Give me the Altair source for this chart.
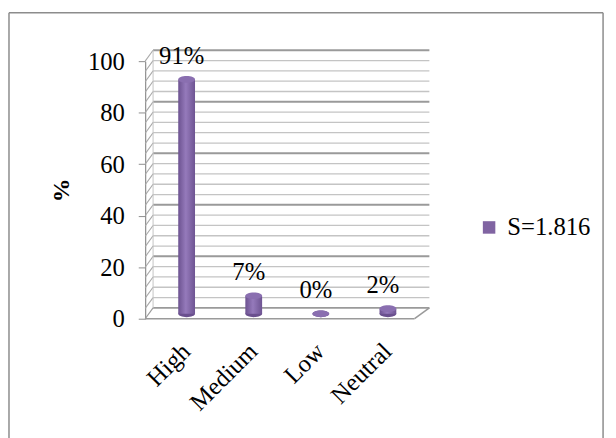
import altair as alt
import pandas as pd

categories = ["High", "Medium", "Low", "Neutral"]
values = [91, 7, 0, 2]
labels = ["91%", "7%", "0%", "2%"]
series_name = "S=1.816"
grid_values = list(range(0, 101, 4))
major_ticks = [0, 20, 40, 60, 80, 100]

W, H = 288, 261
DX, DY = 8, -11
FONT = "Liberation Serif"
PURPLE = "#8064A2"

bars = pd.DataFrame({"cat": categories, "val": values, "lab": labels, "series": [series_name] * 4})
grid = pd.DataFrame({"v": grid_values, "major": [v % 20 == 0 for v in grid_values]})

xscale = alt.Scale(domain=categories, paddingInner=0, paddingOuter=0.118)
yscale = alt.Scale(domain=[0, 100], nice=False)

yaxis = alt.Axis(values=major_ticks, title="%", titleFont=FONT, titleFontSize=24,
                 titleFontWeight="bold", titleColor="#000", titlePadding=14,
                 labelFont=FONT, labelFontSize=25, labelColor="#000",
                 grid=False, domainColor="#8c8c8c", domainWidth=1.2, tickColor="#8c8c8c",
                 tickSize=7, labelPadding=14)
xaxis = alt.Axis(title=None, domain=False, ticks=False, labelAngle=-45,
                 labelFont=FONT, labelFontSize=25, labelColor="#000",
                 labelPadding=20, labelOffset=-9)


def Y(field):
    return alt.Y(field, scale=yscale, axis=yaxis)


def X(field):
    return alt.X(field, scale=xscale, sort=categories, axis=xaxis)


# back-wall gridlines
grid_minor = alt.Chart(grid).transform_filter("!datum.major").mark_rule(
    color="#c4c4c4", strokeWidth=1.3, yOffset=DY, y2Offset=DY
).encode(y=Y("v:Q"), x=alt.value(DX), x2=alt.value(W))
grid_major = alt.Chart(grid).transform_filter("datum.major").mark_rule(
    color="#9a9a9a", strokeWidth=2, yOffset=DY, y2Offset=DY
).encode(y=Y("v:Q"), x=alt.value(DX), x2=alt.value(W))
# side wall diagonals
diag = alt.Chart(grid).transform_filter("datum.v > 0").mark_rule(
    color="#a8a8a8", strokeWidth=1.1, y2Offset=DY
).encode(y=Y("v:Q"), y2="v:Q", x=alt.value(0), x2=alt.value(DX))
# back wall left edge
backedge = alt.Chart(pd.DataFrame({"a": [0], "b": [100]})).mark_rule(
    color="#c4c4c4", strokeWidth=1, yOffset=DY, y2Offset=DY
).encode(y=Y("a:Q"), y2="b:Q", x=alt.value(DX))
# floor
floor_df = pd.DataFrame({"a": [0]})
floor_front = alt.Chart(floor_df).mark_rule(color="#9a9a9a", strokeWidth=1.6).encode(
    y=Y("a:Q"), x=alt.value(0), x2=alt.value(W - 15))
floor_right = alt.Chart(floor_df).mark_rule(color="#9a9a9a", strokeWidth=1.6, y2Offset=DY).encode(
    y=Y("a:Q"), y2="a:Q", x=alt.value(W - 15), x2=alt.value(W))
floor_diag = alt.Chart(floor_df).mark_rule(color="#9a9a9a", strokeWidth=1.2, y2Offset=DY).encode(
    y=Y("a:Q"), y2="a:Q", x=alt.value(0), x2=alt.value(DX))

# outer chart frame (top, left, right)
frame_top = alt.Chart(floor_df).mark_rule(color="#8c8c8c", strokeWidth=1.5).encode(
    x=alt.value(-138), x2=alt.value(464), y=alt.value(-49))
frame_left = alt.Chart(floor_df).mark_rule(color="#8c8c8c", strokeWidth=1.5).encode(
    x=alt.value(-138), y=alt.value(-49), y2=alt.value(390))
frame_right = alt.Chart(floor_df).mark_rule(color="#8c8c8c", strokeWidth=1.5).encode(
    x=alt.value(464), y=alt.value(-49), y2=alt.value(390))

gradient = {
    "gradient": "linear", "x1": 0, "x2": 1, "y1": 0, "y2": 0,
    "stops": [
        {"offset": 0, "color": "#6c5290"},
        {"offset": 0.45, "color": "#957abb"},
        {"offset": 1, "color": "#6e5492"},
    ],
}

ELLIPSE = "M-1,0 A1,0.4 0 1,0 1,0 A1,0.4 0 1,0 -1,0 Z"

bar = alt.Chart(bars).mark_bar(size=17, yOffset=-5, fill=gradient).encode(
    x=X("cat:N"),
    y=Y("val:Q"),
    color=alt.Color("series:N", scale=alt.Scale(range=[PURPLE]),
                    legend=alt.Legend(title=None, orient="none", legendX=336, legendY=156,
                                      symbolType="square", symbolSize=160,
                                      symbolStrokeWidth=0, labelOffset=6,
                                      labelFont=FONT, labelFontSize=25, labelColor="#000")),
)

# cylinder caps (bottom and top)
cap_bottom = alt.Chart(bars).transform_calculate(zero="0").mark_point(
    shape=ELLIPSE, size=289, filled=True, opacity=1, color="#6a508e", yOffset=-5
).encode(x=X("cat:N"), y=Y("zero:Q"))
cap_top = alt.Chart(bars).mark_point(
    shape=ELLIPSE, size=289, filled=True, opacity=1, color="#8a6fb0", yOffset=-5
).encode(x=X("cat:N"), y=Y("val:Q"))

text = alt.Chart(bars).mark_text(font=FONT, fontSize=25, dy=-29, dx=-5, color="#000",
                                 baseline="middle").encode(
    x=X("cat:N"),
    y=Y("val:Q"),
    text="lab:N",
)

chart = alt.layer(
    frame_top, frame_left, frame_right,
    grid_minor, grid_major, diag, backedge, floor_front, floor_right, floor_diag,
    cap_bottom, bar, cap_top, text
).properties(
    width=W, height=H,
    autosize=alt.AutoSizeParams(type="none"),
    padding={"left": 139, "top": 51, "right": 181, "bottom": 118},
    background="white",
).configure_view(stroke=None)

chart.save("out.html", embed_options={"renderer": "svg", "actions": False})
